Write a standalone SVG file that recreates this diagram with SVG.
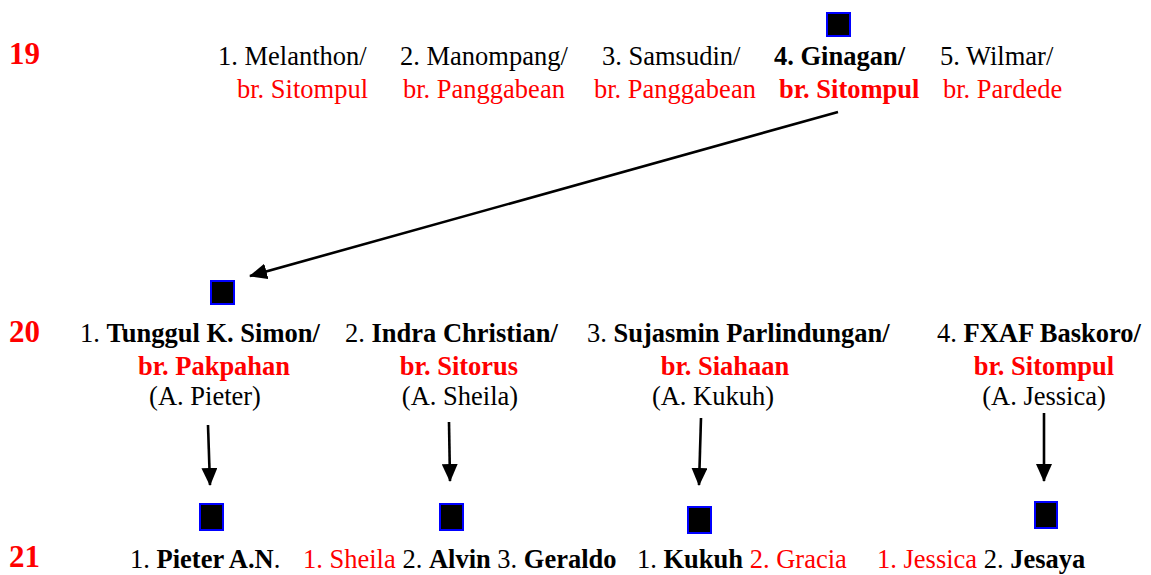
<svg xmlns="http://www.w3.org/2000/svg" width="1151" height="575" viewBox="0 0 1151 575">
  <style>
    text { font-family: "Liberation Serif", "Times New Roman", serif; font-size: 26.5px; fill: #000; }
    .gen { font-size: 31px; font-weight: bold; fill: #ff0000; }
    .red { fill: #ff0000; }
    .b { font-weight: bold; }
    .mid { text-anchor: middle; }
    .sq { fill: #000; stroke: #0000ff; stroke-width: 2; }
    .conn { stroke: #000; stroke-width: 2.6; fill: none; marker-end: url(#arrow); }
  </style>
  <defs>
    <marker id="arrow" markerUnits="userSpaceOnUse" markerWidth="18" markerHeight="16" refX="17" refY="8" orient="auto">
      <path d="M0,0 L18,8 L0,16 Z" fill="#000"/>
    </marker>
  </defs>

  <!-- generation numbers -->
  <g id="generations">
    <text class="gen" x="9" y="64">19</text>
    <text class="gen" x="9" y="342">20</text>
    <text class="gen" x="9" y="567">21</text>
  </g>

  <!-- generation 19 -->
  <g id="g19-melanthon">
    <text x="218" y="65">1. Melanthon/</text>
    <text class="red" x="237" y="98">br. Sitompul</text>
  </g>
  <g id="g19-manompang">
    <text x="400" y="65">2. Manompang/</text>
    <text class="red" x="403" y="98">br. Panggabean</text>
  </g>
  <g id="g19-samsudin">
    <text x="602" y="65">3. Samsudin/</text>
    <text class="red" x="594" y="98">br. Panggabean</text>
  </g>
  <g id="g19-ginagan">
    <rect class="sq" x="827" y="13" width="23" height="23"/>
    <text class="b" x="774" y="65">4. Ginagan/</text>
    <text class="red b" x="779" y="98">br. Sitompul</text>
  </g>
  <g id="g19-wilmar">
    <text x="940" y="65">5. Wilmar/</text>
    <text class="red" x="943" y="98">br. Pardede</text>
  </g>

  <!-- generation 20 -->
  <g id="g20-tunggul">
    <rect class="sq" x="211" y="281" width="23" height="23"/>
    <text x="80" y="342">1. <tspan class="b">Tunggul K. Simon/</tspan></text>
    <text class="red b mid" x="214" y="375">br. Pakpahan</text>
    <text class="mid" x="205" y="405">(A. Pieter)</text>
  </g>
  <g id="g20-indra">
    <text x="345" y="342">2. <tspan class="b">Indra Christian/</tspan></text>
    <text class="red b mid" x="459" y="375">br. Sitorus</text>
    <text class="mid" x="460" y="405">(A. Sheila)</text>
  </g>
  <g id="g20-sujasmin">
    <text x="587" y="342">3. <tspan class="b">Sujasmin Parlindungan/</tspan></text>
    <text class="red b mid" x="725" y="375">br. Siahaan</text>
    <text class="mid" x="713" y="405">(A. Kukuh)</text>
  </g>
  <g id="g20-fxaf">
    <text x="937" y="342">4. <tspan class="b">FXAF Baskoro/</tspan></text>
    <text class="red b mid" x="1044" y="375">br. Sitompul</text>
    <text class="mid" x="1044" y="405">(A. Jessica)</text>
  </g>

  <!-- generation 21 -->
  <g id="g21-tunggul">
    <rect class="sq" x="200" y="504" width="23" height="26"/>
    <text x="130" y="568">1. <tspan class="b">Pieter A.N</tspan>.</text>
  </g>
  <g id="g21-indra">
    <rect class="sq" x="440" y="504" width="23" height="26"/>
    <text x="303" y="568"><tspan class="red">1. Sheila</tspan> 2. <tspan class="b">Alvin</tspan> 3. <tspan class="b">Geraldo</tspan></text>
  </g>
  <g id="g21-sujasmin">
    <rect class="sq" x="688" y="507" width="23" height="26"/>
    <text x="637" y="568">1. <tspan class="b">Kukuh</tspan> <tspan class="red">2. Gracia</tspan></text>
  </g>
  <g id="g21-fxaf">
    <rect class="sq" x="1035" y="502" width="22" height="26"/>
    <text x="877" y="568"><tspan class="red">1. Jessica</tspan>  2. <tspan class="b">Jesaya</tspan></text>
  </g>

  <!-- descent connectors -->
  <g id="connectors">
    <line class="conn" x1="838" y1="112" x2="250" y2="276"/>
    <line class="conn" x1="208" y1="425" x2="210" y2="485"/>
    <line class="conn" x1="449" y1="422" x2="450" y2="481"/>
    <line class="conn" x1="701" y1="418" x2="699" y2="485"/>
    <line class="conn" x1="1044" y1="413" x2="1044" y2="481"/>
  </g>
</svg>
